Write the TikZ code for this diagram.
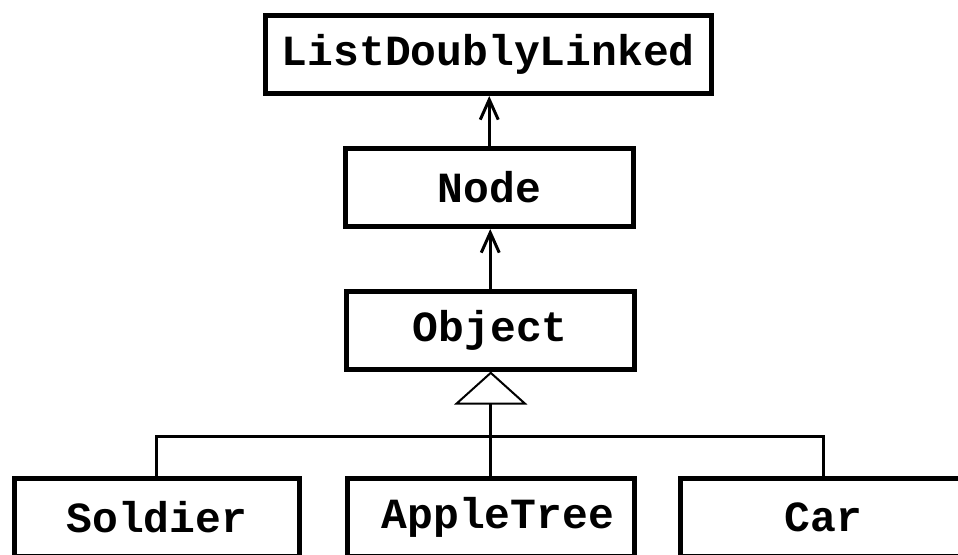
\documentclass[tikz,border=0pt]{standalone}
\usepackage{fontspec}
\setmonofont{Liberation Mono}
\usetikzlibrary{arrows.meta}
\begin{document}
\begin{tikzpicture}[x=1pt,y=-1pt,
  cls/.style={draw=black, line width=5pt, rectangle, minimum height=78pt, inner sep=0pt,
    font=\fontsize{43}{43}\selectfont\ttfamily\bfseries},
  assoc/.style={line width=3.5pt, -{Straight Barb[length=20pt,width=18pt,line width=3pt]}},
  inherit/.style={line width=3pt, -{Triangle[open,length=33pt,width=73pt,line width=2pt]}},
  bar/.style={line width=3pt}]
\useasboundingbox (0,0) rectangle (958,554);
\node[cls, minimum width=445.5pt] (ldl) at (488.25,54.5) {ListDoublyLinked};
\node[cls, minimum width=287.5pt] (node) at (489.25,187.5) {Node};
\node[cls, minimum width=288.5pt] (obj) at (490.25,330) {Object};
\node[cls, minimum width=285.5pt] (sol) at (156.75,517) {Soldier};
\node[cls, minimum width=286.5pt] (app) at (490.75,517) {\hspace*{14pt}AppleTree};
\node[cls, minimum width=287pt] (car) at (823.5,517) {Car};
\draw[assoc] (node.north) -- (node.north |- ldl.south);
\draw[assoc] (obj.north) -- (obj.north |- node.south);
\coordinate (junc) at (491,436);
\draw[bar] (sol.north) |- (junc) -| (car.north);
\draw[inherit] (app.north) -- (app.north |- obj.south);
\end{tikzpicture}
\end{document}
